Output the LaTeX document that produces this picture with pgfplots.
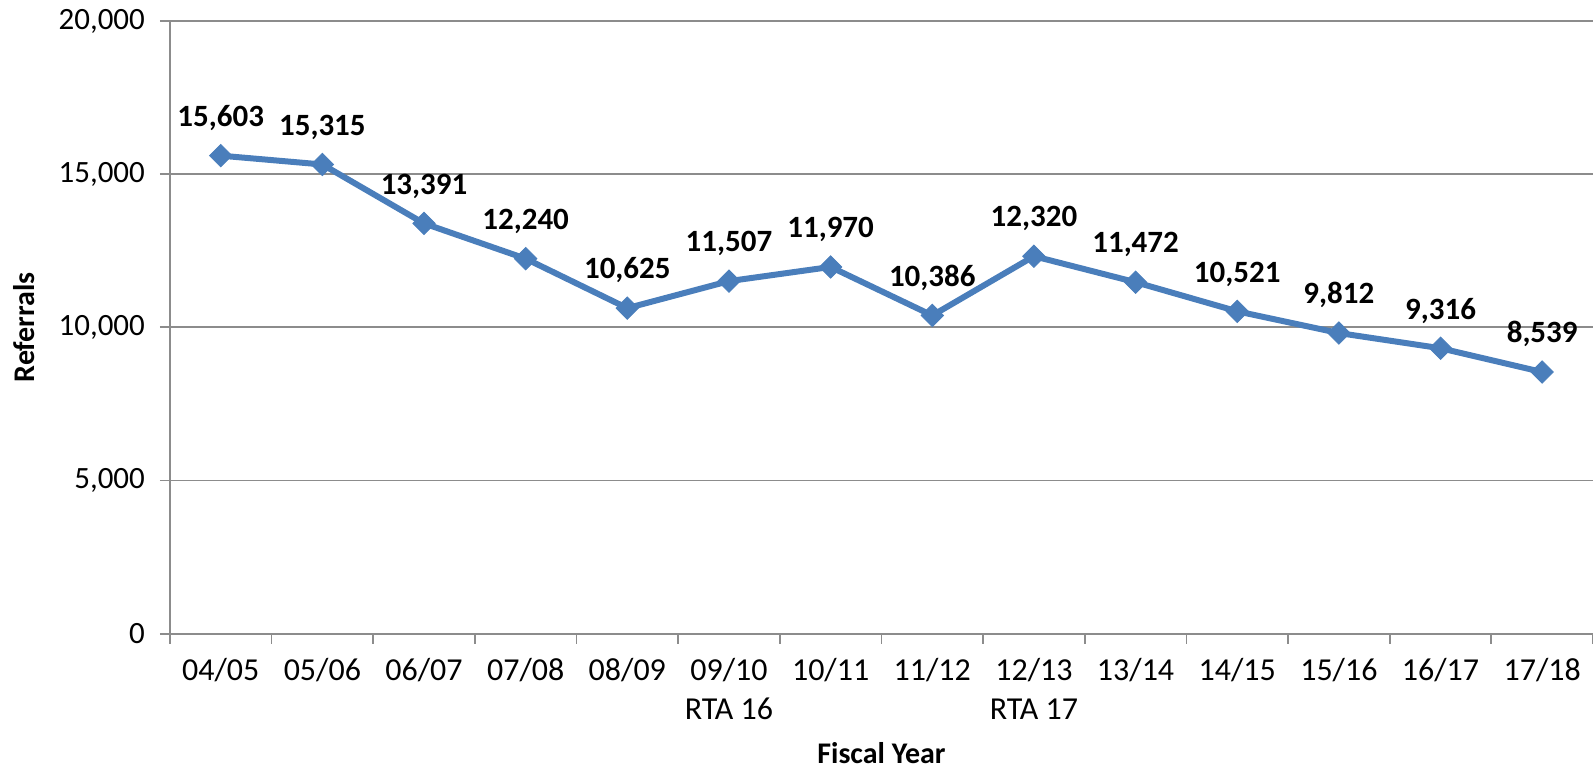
\documentclass[border=0pt]{standalone}
\usepackage{fontspec}
\setmainfont{Carlito}
\usepackage{pgfplots}
\pgfplotsset{compat=1.18}
\definecolor{serieblue}{HTML}{4A7EBB}
\definecolor{gridgray}{HTML}{8C8C8C}

\begin{document}
\begin{tikzpicture}
\begin{axis}[
    scale only axis,
    width=712pt, height=306.5pt,
    xmin=0, xmax=14, ymin=0, ymax=20000,
    clip=false,
    axis x line*=bottom, axis y line*=left,
    axis line style={gridgray, line width=0.9pt},
    tick align=outside,
    major tick length=5pt,
    tick style={gridgray, line width=0.9pt},
    xtick={0,...,14},
    x tick label as interval,
    xticklabels={04/05,05/06,06/07,07/08,08/09,{09/10\\RTA 16},10/11,11/12,{12/13\\RTA 17},13/14,14/15,15/16,16/17,17/18},
    xticklabel style={align=center, font=\fontsize{16}{19.5}\selectfont, yshift=-4pt},
    ytick={0,5000,10000,15000,20000},
    yticklabel style={font=\fontsize{15.5}{19}\selectfont, xshift=-4pt},
    scaled y ticks=false,
    ymajorgrids,
    grid style={gridgray, line width=0.9pt},
    /pgf/number format/.cd, 1000 sep={,}, assume math mode=true,
    /pgfplots/.cd,
    xlabel={Fiscal Year},
    ylabel={Referrals},
    xlabel shift=4.5pt,
    ylabel shift=5pt,
    label style={font=\bfseries\fontsize{15}{18}\selectfont},
]
% Referrals per fiscal year
\addplot[serieblue, line width=3pt,
    mark=diamond*, mark size=5.6pt,
    mark options={solid, xscale=1.333, line width=0.4pt, fill=serieblue, draw=serieblue},
    nodes near coords,
    nodes near coords style={font=\bfseries\fontsize{15.5}{18}\selectfont, text=black, anchor=south, yshift=9pt}
] coordinates {
    (0.5,15603) (1.5,15315) (2.5,13391) (3.5,12240) (4.5,10625)
    (5.5,11507) (6.5,11970) (7.5,10386) (8.5,12320) (9.5,11472)
    (10.5,10521) (11.5,9812) (12.5,9316) (13.5,8539)
};
\end{axis}
\pgfresetboundingbox
\path[use as bounding box] ([xshift=-85pt,yshift=-70.5pt]current axis.south west) rectangle ([yshift=10.5pt]current axis.north east);
\end{tikzpicture}
\end{document}
